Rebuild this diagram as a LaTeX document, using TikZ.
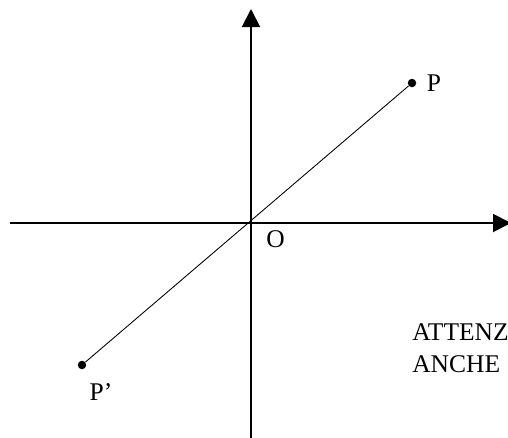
\documentclass[tikz,border=0pt]{standalone}
\usepackage{fontspec}
\setmainfont{Liberation Serif}
\usetikzlibrary{
    arrows.meta,
    positioning
}
\tikzstyle{axis} = [
    line width=1.1pt,
    -{Triangle[length=0.36cm, width=0.36cm]}
]
\tikzstyle{dot} = [
    circle,
    fill=black,
    inner sep=0pt,
    minimum size=0.17cm
]
\tikzstyle{segment} = [
    line width=0.5pt
]
\tikzstyle{ptlabel} = [
    inner sep=0pt,
    font=\fontsize{14.5}{17}\selectfont
]

\begin{document}
\begin{tikzpicture}[x=0.02cm, y=-0.02cm]
        \useasboundingbox (0,0) rectangle (508,437);
        \clip (0,0) rectangle (508,437);

        % Axes
        \coordinate (O) at (251,223);
        \coordinate (xstart) at (10,223);
        \coordinate (xend) at (511,223);
        \coordinate (ystart) at (251,445);
        \coordinate (yend) at (251,9);
        \draw[axis] (xstart) -- (xend);
        \draw[axis] (ystart) -- (yend);

        % Points
        \node[dot] (P) at (412,83) {};
        \node[dot] (Pp) at (82,365) {};
        \draw[segment] (Pp) -- (P);

        % Labels
        \node[ptlabel, right=0.2cm of P] (Plbl) {P};
        \node[ptlabel, below right=0.14cm and 0.3cm of O] (Olbl) {O};
        \node[ptlabel, below right=0.3cm and 0.08cm of Pp] (Pplbl) {P'};

        % Note
        \node[ptlabel, anchor=north west] (note1) at (412,323) {ATTENZ};
        \node[ptlabel, anchor=north west] (note2) at (412,355) {ANCHE};
    \end{tikzpicture}
\end{document}
